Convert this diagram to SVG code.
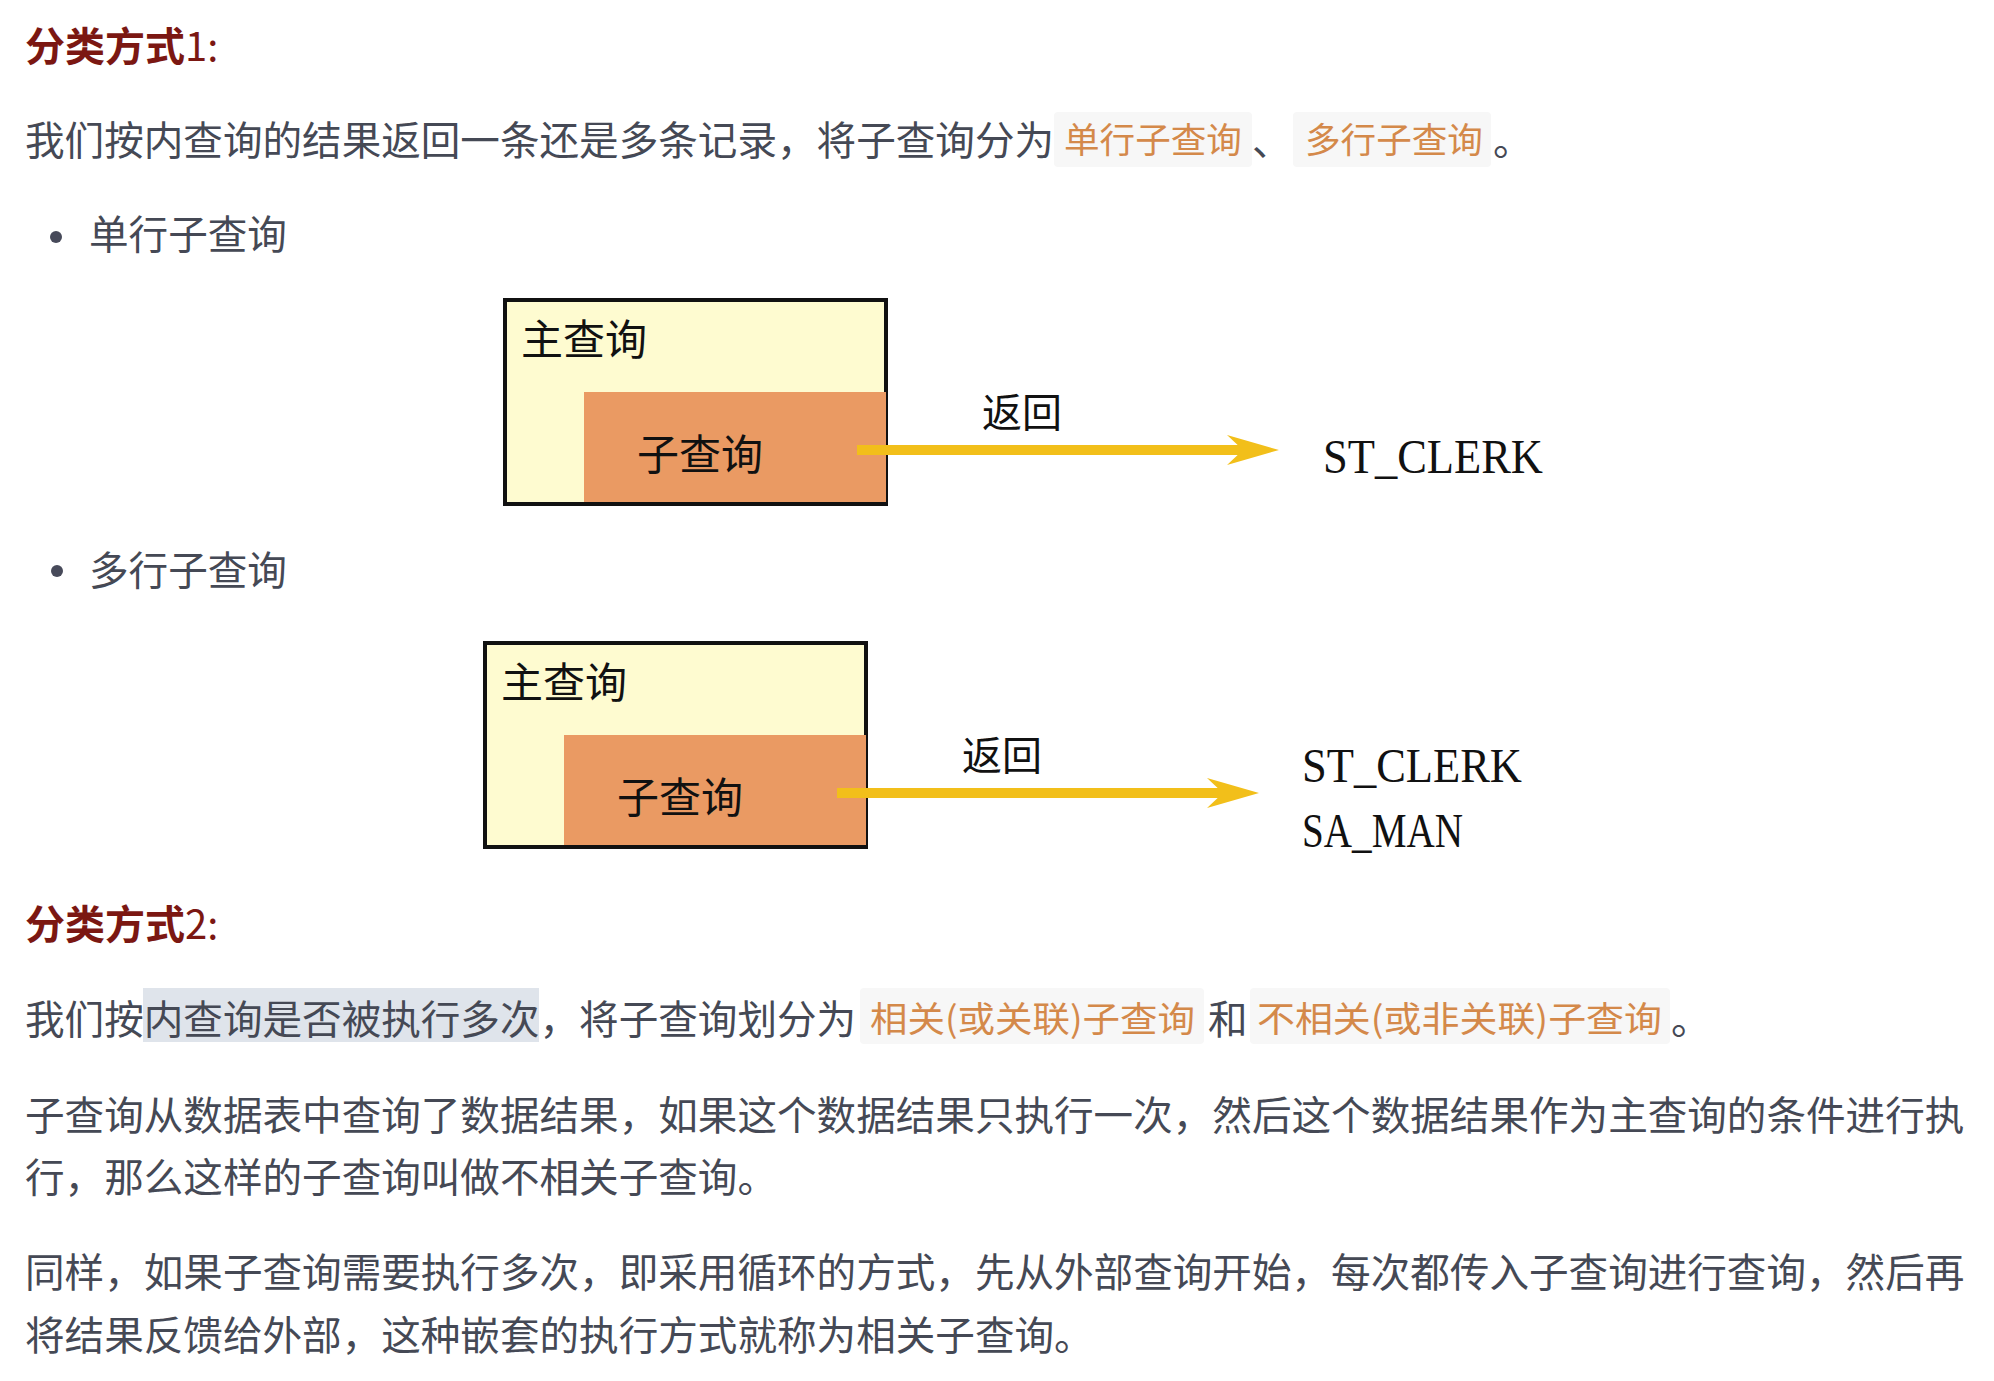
<svg xmlns="http://www.w3.org/2000/svg" width="1994" height="1381" viewBox="0 0 1994 1381">
<style>
.body{font-family:"Noto Sans CJK SC","Noto Sans",sans-serif;font-size:39.6px;fill:#454955;}
.head{font-family:"Noto Sans CJK SC","Noto Sans",sans-serif;font-size:40px;font-weight:bold;fill:#7B1712;}
.code{font-family:"Noto Sans CJK SC","Noto Sans",sans-serif;font-size:35.6px;fill:#D4894A;}
.pill{fill:#F7F7F7;}
.dot{fill:#474A5A;}
.outer{fill:#FEFBD0;stroke:#111111;stroke-width:4;}
.inner{fill:#EA9A63;}
.dlabel{font-family:"Noto Sans CJK SC",sans-serif;font-size:42px;fill:#111111;}
.ret{font-family:"Noto Sans CJK SC",sans-serif;font-size:40px;fill:#111111;}
.res{font-family:"Liberation Serif",serif;font-size:48px;fill:#111111;}
.conn{stroke:#F2BF1A;stroke-width:10;fill:none;}
</style>
<defs>
<marker id="head" markerUnits="userSpaceOnUse" viewBox="0 0 52 30" refX="18" refY="15" markerWidth="52" markerHeight="30" orient="auto">
<path d="M0,0 L52,15 L0,30 L16,15 Z" fill="#F2BF1A"/>
</marker>
</defs>
<rect width="1994" height="1381" fill="#FFFFFF"/>

<g id="heading1">
<text class="head" x="25" y="61">分类方式<tspan font-weight="normal">1:</tspan></text>
</g>

<g id="para1">
<text class="body" x="25" y="155">我们按内查询的结果返回一条还是多条记录，将子查询分为</text>
<rect class="pill" x="1054" y="112" width="198" height="55" rx="4"/>
<text class="code" x="1064" y="153">单行子查询</text>
<text class="body" x="1252" y="155">、</text>
<rect class="pill" x="1293" y="112" width="198" height="55" rx="4"/>
<text class="code" x="1305" y="153">多行子查询</text>
<text class="body" x="1493" y="155">。</text>
</g>

<g id="bullet1">
<circle class="dot" cx="56" cy="237" r="6"/>
<text class="body" x="89" y="249">单行子查询</text>
</g>

<g id="main-query-1">
<rect class="outer" x="505" y="300" width="381" height="204"/>
<text class="dlabel" x="521" y="355">主查询</text>
</g>
<g id="sub-query-1">
<rect class="inner" x="584" y="392" width="302" height="110"/>
<text class="dlabel" x="637" y="470">子查询</text>
</g>
<g id="result-1">
<text class="res" x="1323" y="473" textLength="220" lengthAdjust="spacingAndGlyphs">ST_CLERK</text>
</g>

<g id="bullet2">
<circle class="dot" cx="57" cy="571" r="6"/>
<text class="body" x="89" y="585">多行子查询</text>
</g>

<g id="main-query-2">
<rect class="outer" x="485" y="643" width="381" height="204"/>
<text class="dlabel" x="501" y="698">主查询</text>
</g>
<g id="sub-query-2">
<rect class="inner" x="564" y="735" width="302" height="110"/>
<text class="dlabel" x="617" y="813">子查询</text>
</g>
<g id="result-2">
<text class="res" x="1302" y="782" textLength="220" lengthAdjust="spacingAndGlyphs">ST_CLERK</text>
<text class="res" x="1302" y="847" textLength="161" lengthAdjust="spacingAndGlyphs">SA_MAN</text>
</g>

<g id="connectors">
<path class="conn" d="M857,450 L1245,450" marker-end="url(#head)"/>
<text class="ret" x="982" y="427">返回</text>
<path class="conn" d="M837,793 L1225,793" marker-end="url(#head)"/>
<text class="ret" x="962" y="770">返回</text>
</g>

<g id="heading2">
<text class="head" x="25" y="939">分类方式<tspan font-weight="normal">2:</tspan></text>
</g>

<g id="para2">
<rect x="143" y="988" width="396" height="54" fill="#DFE4EB"/>
<text class="body" x="25" y="1034">我们按内查询是否被执行多次，将子查询划分为</text>
<rect class="pill" x="860" y="988" width="344" height="56" rx="4"/>
<text class="code" x="870" y="1032" textLength="325" lengthAdjust="spacingAndGlyphs">相关(或关联)子查询</text>
<text class="body" x="1208" y="1034">和</text>
<rect class="pill" x="1250" y="988" width="420" height="56" rx="4"/>
<text class="code" x="1257" y="1032" textLength="405" lengthAdjust="spacingAndGlyphs">不相关(或非关联)子查询</text>
<text class="body" x="1671" y="1034">。</text>
</g>

<g id="para3">
<text class="body" x="25" y="1130">子查询从数据表中查询了数据结果，如果这个数据结果只执行一次，然后这个数据结果作为主查询的条件进行执</text>
<text class="body" x="25" y="1192">行，那么这样的子查询叫做不相关子查询。</text>
</g>

<g id="para4">
<text class="body" x="25" y="1287">同样，如果子查询需要执行多次，即采用循环的方式，先从外部查询开始，每次都传入子查询进行查询，然后再</text>
<text class="body" x="25" y="1350">将结果反馈给外部，这种嵌套的执行方式就称为相关子查询。</text>
</g>
</svg>
